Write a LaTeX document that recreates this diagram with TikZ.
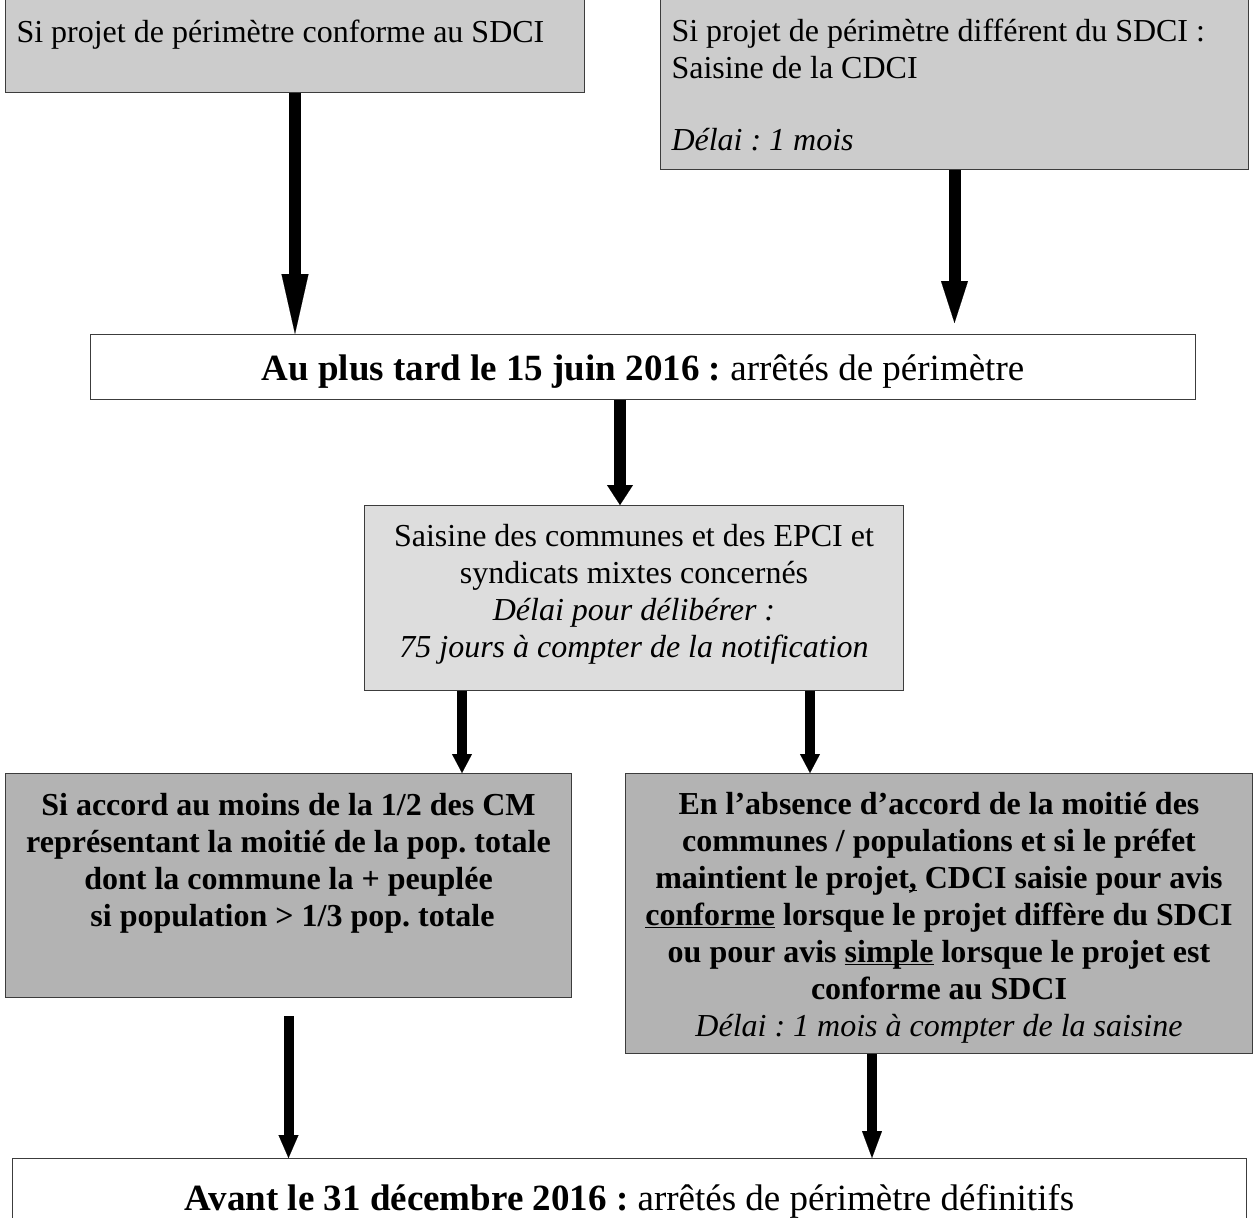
\documentclass[tikz,border=0pt]{standalone}
\usepackage{fontspec}
\setmainfont{Liberation Serif}
\usepackage{tikz}
\usetikzlibrary{arrows.meta, calc}
\definecolor{GrisClair}{RGB}{204,204,204}
\definecolor{GrisPale}{RGB}{221,221,221}
\definecolor{GrisMoyen}{RGB}{179,179,179}
\definecolor{Bordure}{RGB}{60,60,60}
\newcommand{\cadre}[3]{\parbox[c][#2][t]{#1}{#3}}
\newcommand{\haut}[1]{\rule{0pt}{#1}}
\newcommand{\souligne}[1]{\underline{\smash{#1}}}
\frenchspacing

\begin{document}
\begin{tikzpicture}[x=1pt, y=-1pt,
  boite/.style={draw=Bordure, line width=1pt, inner sep=0pt, anchor=north west, font=\fontsize{32}{37}\selectfont},
  grand/.style={font=\fontsize{37}{44}\selectfont},
  fleche/.style n args={3}{line width=#1, -{Triangle[width=#2, length=#3, line width=0.1pt]}}]
\useasboundingbox (0,0) rectangle (1253,1218);
\fill[white] (0,0) rectangle (1253,1218);
\node[boite, fill=GrisClair] (conforme) at (5,-10) {\cadre{579pt}{102pt}{\hspace*{11pt}\haut{52pt}Si projet de périmètre conforme au SDCI}};
\node[boite, fill=GrisClair] (different) at (660,-10) {\cadre{588pt}{179pt}{\raggedright\leftskip=11pt\haut{51pt}Si projet de périmètre différent du SDCI :\\Saisine de la CDCI\\[35pt]\textit{Délai : 1 mois}}};
\node[boite, grand, fill=white] (juin) at (90,334) {\cadre{1105pt}{65pt}{\centering\haut{46pt}\textbf{Au plus tard le 15 juin 2016 :} arrêtés de périmètre}};
\node[boite, fill=GrisPale] (saisine) at (364,505) {\cadre{539pt}{185pt}{\centering\haut{41pt}Saisine des communes et des EPCI et\\syndicats mixtes concernés\\\textit{Délai pour délibérer :}\\\textit{75 jours à compter de la notification}}};
\node[boite, fill=GrisMoyen] (accord) at (5,773) {\cadre{566pt}{224pt}{\centering\bfseries\haut{42pt}Si accord au moins de la 1/2 des CM\\représentant la moitié de la pop. totale\\dont la commune la + peuplée\\\hspace*{8pt}si population > 1/3 pop. totale}};
\node[boite, fill=GrisMoyen] (absence) at (625,773) {\cadre{627pt}{280pt}{\centering\haut{41pt}{\bfseries En l’absence d’accord de la moitié des\\communes / populations et si le préfet\\maintient le projet\souligne{,} CDCI saisie pour avis\\\souligne{conforme} lorsque le projet diffère du SDCI\\ou pour avis \souligne{simple} lorsque le projet est\\conforme au SDCI}\\\textit{Délai : 1 mois à compter de la saisine}}};
\node[boite, grand, fill=white] (decembre) at (12,1158) {\cadre{1234pt}{90pt}{\centering\haut{52pt}\textbf{Avant le 31 décembre 2016 :} arrêtés de périmètre définitifs}};
\draw[fleche={12pt}{27pt}{60pt}] (conforme.south) -- (conforme.south |- juin.north);
\coordinate (pointe) at ($(juin.north -| different.south)+(0,-11)$);
\draw[fleche={12pt}{27pt}{42pt}] (different.south) -- (pointe);
\coordinate (depart) at ($(juin.south -| saisine.north)+(-14,0)$);
\draw[fleche={12pt}{26pt}{20pt}] (depart) -- (depart |- saisine.north);
\coordinate (gauche) at ($(saisine.south)+(-172,0)$);
\coordinate (droite) at ($(saisine.south)+(176,0)$);
\draw[fleche={10pt}{20pt}{19pt}] (gauche) -- (gauche |- accord.north);
\draw[fleche={10pt}{20pt}{19pt}] (droite) -- (droite |- absence.north);
\coordinate (bas) at ($(accord.south)+(0,18)$);
\draw[fleche={10pt}{20pt}{23pt}] (bas) -- (bas |- decembre.north);
\coordinate (sortie) at ($(absence.south)+(-67,0)$);
\draw[fleche={10pt}{20pt}{27pt}] (sortie) -- (sortie |- decembre.north);
\end{tikzpicture}
\end{document}
